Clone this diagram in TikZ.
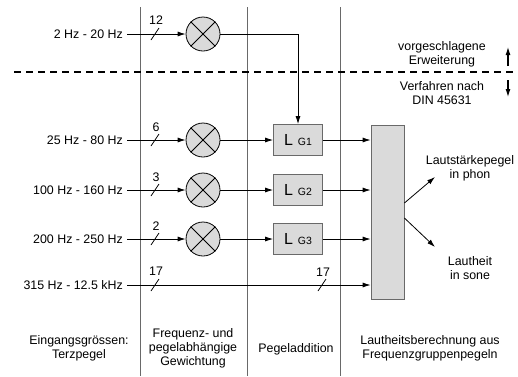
\documentclass[tikz,border=0pt]{standalone}
\usepackage{fontspec}
\setmainfont{Liberation Sans}
\usetikzlibrary{arrows.meta, positioning, calc}
\definecolor{boxgray}{RGB}{218,218,218}
\definecolor{rulegray}{RGB}{105,105,105}

\begin{document}
\begin{tikzpicture}[
        x=1pt, y=-1pt,
        font=\fontsize{12.4}{13.8}\selectfont,
        arrow/.style={-{Latex[length=8pt,width=5pt]}, line width=0.8pt},
        mult/.style={circle, draw=black, line width=0.8pt, fill=boxgray, minimum size=34pt, inner sep=0pt},
        gbox/.style={rectangle, draw=rulegray, line width=0.8pt, fill=boxgray, minimum width=49pt, minimum height=31pt, inner sep=0pt},
        inlbl/.style={anchor=east, inner xsep=4pt, inner ysep=0pt},
        lbl/.style={align=center, inner sep=0pt},
        sep/.style={rulegray, line width=1pt},
        bus/.style={line width=0.8pt}
    ]
        \useasboundingbox (0,0) rectangle (518,376);

        % Column separators and boundary
        \draw[sep] (140,7) -- (140,376);
        \draw[sep] (247,7) -- (247,376);
        \draw[sep] (340,7) -- (340,376);
        \draw[line width=1.3pt, dash pattern=on 7pt off 5pt] (14,72) -- (518,72);

        % Input levels
        \node[inlbl] (in0) at (127,34) {2 Hz - 20 Hz};
        \node[inlbl] (in1) at (127,140) {25 Hz - 80 Hz};
        \node[inlbl] (in2) at (127,190) {100 Hz - 160 Hz};
        \node[inlbl] (in3) at (127,239) {200 Hz - 250 Hz};
        \node[inlbl] (in4) at (127,285) {315 Hz - 12.5 kHz};

        % Weighting
        \node[mult] (m0) at (203,34) {};
        \node[mult] (m1) at (203,140) {};
        \node[mult] (m2) at (203,190) {};
        \node[mult] (m3) at (203,239) {};
        \foreach \i in {0,...,3} {
            \draw[line width=0.8pt] (m\i.north west) -- (m\i.south east);
            \draw[line width=0.8pt] (m\i.north east) -- (m\i.south west);
        }

        % Level addition
        \node[gbox] (g1) at (298,140) {{\fontsize{16}{16}\selectfont L}\hspace{5pt}{\fontsize{10.5}{11}\selectfont G1}};
        \node[gbox] (g2) at (298,190) {{\fontsize{16}{16}\selectfont L}\hspace{5pt}{\fontsize{10.5}{11}\selectfont G2}};
        \node[gbox] (g3) at (298,239) {{\fontsize{16}{16}\selectfont L}\hspace{5pt}{\fontsize{10.5}{11}\selectfont G3}};

        % Loudness calculation
        \node[gbox, minimum width=33pt, minimum height=174pt] (big) at (387.5,212) {};

        % Arrows
        \foreach \i in {0,...,3} {
            \draw[arrow] (in\i.east) -- (m\i);
        }
        \draw[arrow] (m0) -| (g1);
        \draw[arrow] (m1) -- (g1);
        \draw[arrow] (m2) -- (g2);
        \draw[arrow] (m3) -- (g3);
        \draw[arrow] (g1) -- (g1 -| big.west);
        \draw[arrow] (g2) -- (g2 -| big.west);
        \draw[arrow] (g3) -- (g3 -| big.west);
        \draw[arrow] (in4.east) -- (in4 -| big.west);

        % Bus widths
        \foreach \x/\y in {155/34, 155/140, 155/190, 155/239, 155/285, 322/285} {
            \draw[bus] (\x-4,\y+6) -- (\x+4,\y-6);
        }
        \node[lbl] (n0) at (156,20) {12};
        \node[lbl] (n1) at (156,127) {6};
        \node[lbl] (n2) at (156,177) {3};
        \node[lbl] (n3) at (156,226) {2};
        \node[lbl] (n4) at (156,271) {17};
        \node[lbl] (n5) at (323,272) {17};

        % Outputs
        \coordinate (phon) at (435,177);
        \coordinate (sone) at (435,247);
        \draw[arrow] ([yshift=9pt]big.east) -- (phon);
        \draw[arrow] ([yshift=-6pt]big.east) -- (sone);
        \node[lbl] (lphon) at (470,168) {Lautstärkepegel\\in phon};
        \node[lbl] (lsone) at (470,268) {Lautheit\\in sone};

        % Extension note
        \node[lbl] (ext) at (442,54) {vorgeschlagene\\Erweiterung};
        \node[lbl] (din) at (442,93) {Verfahren nach\\DIN 45631};
        \coordinate (up0) at (508,66);
        \coordinate (up1) at (508,47);
        \coordinate (dn0) at (508,80);
        \coordinate (dn1) at (508,97);
        \draw[arrow, line width=1.1pt] (up0) -- (up1);
        \draw[arrow, line width=1.1pt] (dn0) -- (dn1);

        % Column captions
        \node[lbl] (c1) at (79,348) {Eingangsgrössen:\\Terzpegel};
        \node[lbl] (c2) at (193,348) {Frequenz- und\\pegelabhängige\\Gewichtung};
        \node[lbl] (c3) at (296,349) {Pegeladdition};
        \node[lbl] (c4) at (430,348) {Lautheitsberechnung aus\\Frequenzgruppenpegeln};
    \end{tikzpicture}
\end{document}
